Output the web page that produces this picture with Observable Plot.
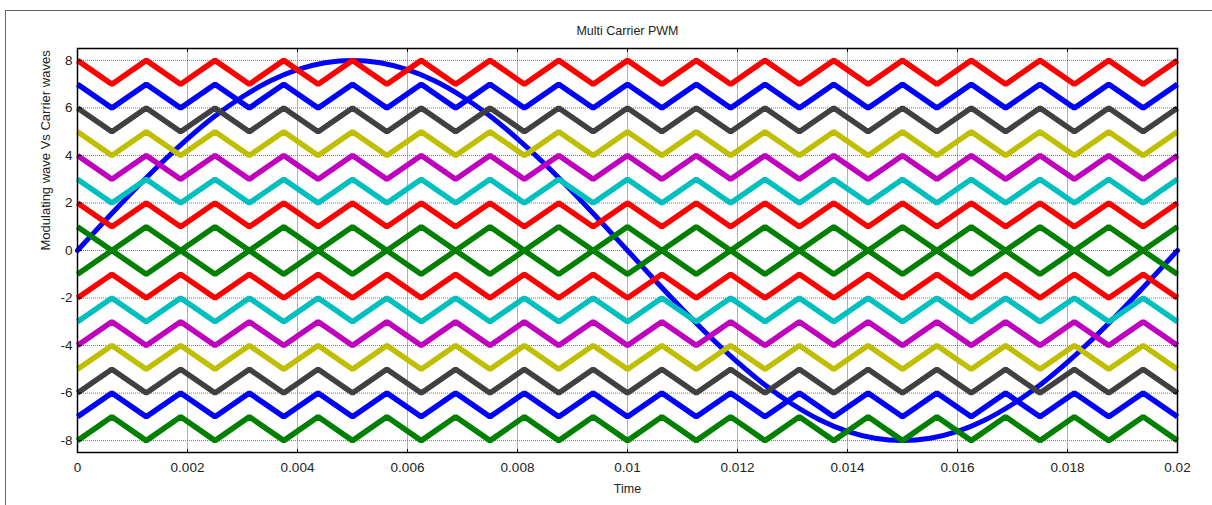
<!DOCTYPE html>
<html>
<head>
<meta charset="utf-8">
<script src="https://cdn.jsdelivr.net/npm/d3@7"></script>
<script src="https://cdn.jsdelivr.net/npm/@observablehq/plot@0.6"></script>
<style>
  html, body { margin: 0; padding: 0; background: #fff; }
  #wrap { position: relative; width: 1212px; height: 505px; overflow: hidden; }
  #frame { position: absolute; left: 5px; top: 10px; width: 1220px; height: 520px;
           border-top: 1.5px solid #666; border-left: 1.5px solid #666; pointer-events: none; }
  svg { font-family: "Liberation Sans", Arial, sans-serif; }
</style>
</head>
<body>
<div id="wrap"><div id="frame"></div></div>
<script>
// Time axis ticks and y ticks
const xTicks = [0, 0.002, 0.004, 0.006, 0.008, 0.01, 0.012, 0.014, 0.016, 0.018, 0.02];
const xTickLabels = ["0", "0.002", "0.004", "0.006", "0.008", "0.01", "0.012", "0.014", "0.016", "0.018", "0.02"];
const yTicks = [-8, -6, -4, -2, 0, 2, 4, 6, 8];

// Modulating (sine) wave, sampled every 0.0005 s
const sineTimes = [0,0.0005,0.001,0.0015,0.002,0.0025,0.003,0.0035,0.004,0.0045,0.005,0.0055,0.006,0.0065,0.007,0.0075,0.008,0.0085,0.009,0.0095,0.01,0.0105,0.011,0.0115,0.012,0.0125,0.013,0.0135,0.014,0.0145,0.015,0.0155,0.016,0.0165,0.017,0.0175,0.018,0.0185,0.019,0.0195,0.02];
const sineValues = [0,1.25,2.47,3.63,4.70,5.66,6.47,7.13,7.61,7.90,8,7.90,7.61,7.13,6.47,5.66,4.70,3.63,2.47,1.25,0,-1.25,-2.47,-3.63,-4.70,-5.66,-6.47,-7.13,-7.61,-7.90,-8,-7.90,-7.61,-7.13,-6.47,-5.66,-4.70,-3.63,-2.47,-1.25,0];

// Carrier triangle-wave vertex times
const carrierTimes = [0,0.000625,0.00125,0.001875,0.0025,0.003125,0.00375,0.004375,0.005,0.005625,0.00625,0.006875,0.0075,0.008125,0.00875,0.009375,0.01,0.010625,0.01125,0.011875,0.0125,0.013125,0.01375,0.014375,0.015,0.015625,0.01625,0.016875,0.0175,0.018125,0.01875,0.019375,0.02];
// Carrier bands (low edge, high edge), start at high (true) or low (false), colour
const carrierLow  = [7, 6, 5, 4, 3, 2, 1, 0, -1, -2, -3, -4, -5, -6, -7, -8];
const carrierHigh = [8, 7, 6, 5, 4, 3, 2, 1, 0, -1, -2, -3, -4, -5, -6, -7];
const carrierStartHigh = [true,true,true,true,true,true,true,true,false,false,false,false,false,false,false,false];
const carrierColors = ["#ff0000","#0000ff","#404040","#bfbf00","#bf00bf","#00bfbf","#ff0000","#008000",
                       "#008000","#ff0000","#00bfbf","#bf00bf","#bfbf00","#404040","#0000ff","#008000"];

const sine = sineTimes.map((t, i) => ({t, v: sineValues[i]}));
const carriers = [];
carrierLow.forEach((lo, c) => {
  carrierTimes.forEach((t, i) => {
    const high = (i % 2 === 0) === carrierStartHigh[c];
    carriers.push({c, t, v: high ? carrierHigh[c] : lo, color: carrierColors[c]});
  });
});

const font = "Liberation Sans, Arial, sans-serif";
const chart = Plot.plot({
  width: 1212,
  height: 505,
  marginLeft: 77,
  marginRight: 35,
  marginTop: 48,
  marginBottom: 53,
  style: {fontFamily: font, fontSize: "13px", background: "transparent", color: "#222"},
  x: {domain: [0, 0.02], label: null},
  y: {domain: [-8.5, 8.5], label: null},
  marks: [
    Plot.gridX(xTicks, {stroke: "#b0b0b0", strokeOpacity: 1, strokeWidth: 1}),
    Plot.gridY(yTicks, {stroke: "#777", strokeOpacity: 1, strokeWidth: 1, strokeDasharray: "1,1"}),
    Plot.line(sine, {x: "t", y: "v", stroke: "#0000ff", strokeWidth: 5, curve: "catmull-rom"}),
    Plot.line(carriers, {x: "t", y: "v", z: "c", stroke: "color", strokeWidth: 5.5, strokeLinejoin: "miter", strokeLinecap: "butt"}),
    Plot.axisX(xTicks, {anchor: "bottom", tickSize: 0, tickPadding: 10, tickFormat: (d, i) => xTickLabels[i], fontSize: 13.5}),
    Plot.axisY(yTicks, {anchor: "left", tickSize: 0, tickPadding: 5, tickFormat: d => String(d), fontSize: 13.5}),
    Plot.axisX(xTicks, {anchor: "top", frameAnchor: "bottom", tickSize: 4, tickFormat: () => "", stroke: "black"}),
    Plot.axisX(xTicks, {anchor: "bottom", frameAnchor: "top", tickSize: 4, tickFormat: () => "", stroke: "black"}),
    Plot.axisY(yTicks, {anchor: "right", frameAnchor: "left", tickSize: 4, tickFormat: () => "", stroke: "black"}),
    Plot.axisY(yTicks, {anchor: "left", frameAnchor: "right", tickSize: 4, tickFormat: () => "", stroke: "black"}),
    Plot.frame({stroke: "black", strokeWidth: 1.5}),
    Plot.text(["Multi Carrier PWM"], {frameAnchor: "top", dy: -22, fontSize: 12.5, fill: "#222"}),
    Plot.text(["Time"], {frameAnchor: "bottom", dy: 40, fontSize: 12.5, fill: "#222"}),
    Plot.text(["Modulating wave Vs Carrier waves"], {frameAnchor: "left", dx: -32, rotate: -90, fontSize: 13, fill: "#222"})
  ]
});
document.getElementById("wrap").prepend(chart);
</script>
</body>
</html>
